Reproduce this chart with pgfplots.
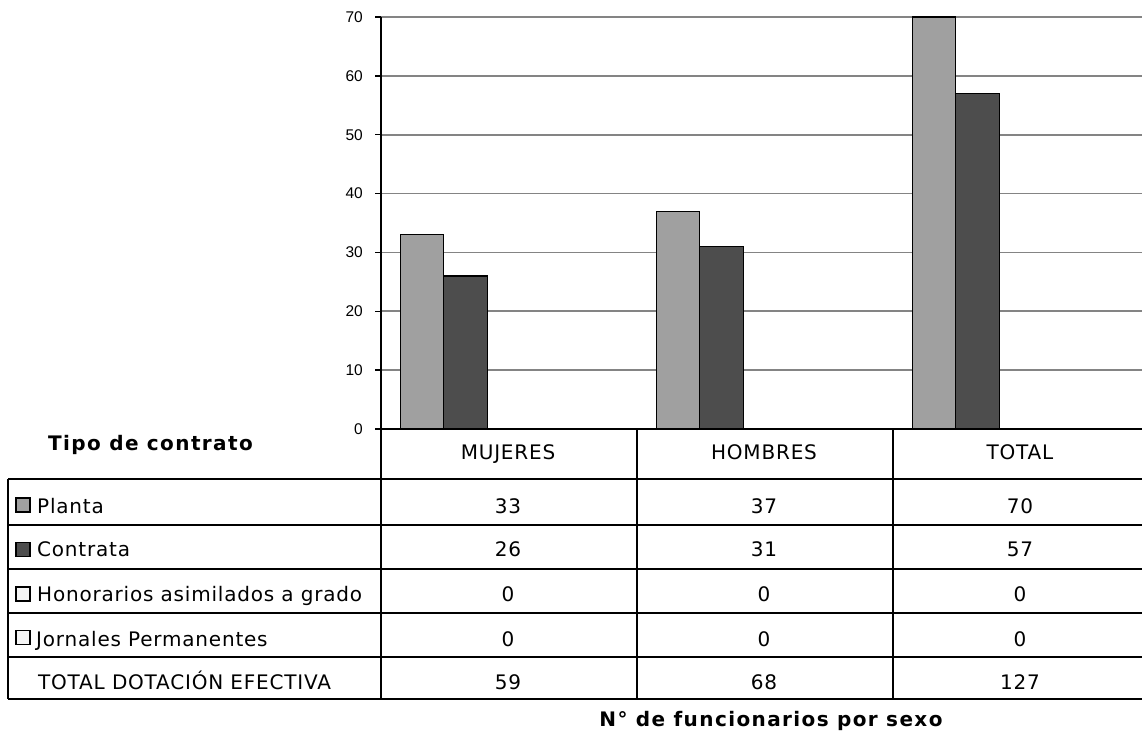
\documentclass[border=0pt]{standalone}
\usepackage{pgfplots}
\pgfplotsset{compat=1.18}
\usepackage{fontspec}
\setmainfont{DejaVu Sans}
\newfontfamily\tickfont{Liberation Sans}
\newfontfamily\tabfont[LetterSpace=4]{DejaVu Sans}
\newfontfamily\headfont[LetterSpace=7]{DejaVu Sans}

\definecolor{planta}{RGB}{160,160,160}
\definecolor{contrata}{RGB}{77,77,77}
\definecolor{gridgray}{RGB}{132,132,132}
\definecolor{emptybox}{RGB}{245,245,245}

\newcommand{\tab}{\tabfont\fontsize{20}{24}\selectfont}
\newcommand{\head}{\headfont\bfseries\fontsize{20}{24}\selectfont}
\newcommand{\tk}{\tickfont\fontsize{15.5}{18}\selectfont}

\begin{document}
\begin{tikzpicture}
\useasboundingbox (0,0) rectangle (1142pt,736pt);
\clip (0,0) rectangle (1142pt,736pt);

\begin{axis}[
    anchor=south west, at={(381pt,307pt)},
    scale only axis, width=768pt, height=412pt,
    xmin=-0.5, xmax=2.5, ymin=0, ymax=70,
    clip=false,
    axis y line*=left, axis x line*=bottom,
    axis line style={-, line width=1.5pt, black},
    xtick=\empty,
    ytick={0,10,...,70},
    tick align=outside, major tick length=6pt,
    tick style={black, line width=1.3pt},
    ymajorgrids, grid style={gridgray, line width=1.8pt},
    /pgf/number format/assume math mode=true,
    yticklabel={\tk\pgfmathprintnumber{\tick}},
    yticklabel style={inner sep=0pt, anchor=east, xshift=-12pt},
]
\addplot[ybar, bar width=43.5pt, bar shift=-87pt, fill=planta, draw=black, line width=1.4pt]
    coordinates {(0,33) (1,37) (2,70)};
\addplot[ybar, bar width=43.5pt, bar shift=-43.5pt, fill=contrata, draw=black, line width=1.4pt]
    coordinates {(0,26) (1,31) (2,57)};
\end{axis}

% data table
\begin{scope}[line width=1.5pt]
\draw (381pt,307pt) -- (1150pt,307pt);
\foreach \y in {257,211,167,123,79,37} \draw (8pt,\y pt) -- (1150pt,\y pt);
\draw (8pt,257pt) -- (8pt,37pt);
\foreach \x in {381,637,893} \draw (\x pt,307pt) -- (\x pt,37pt);
\end{scope}

% legend keys
\begin{scope}[line width=1.3pt]
\draw[fill=planta]   (16pt,224pt) rectangle (30pt,238pt);
\draw[fill=contrata] (16pt,179.5pt) rectangle (30pt,193.5pt);
\draw[fill=emptybox] (16pt,135pt) rectangle (30pt,149pt);
\draw[fill=emptybox] (16pt,91.5pt) rectangle (30pt,105.5pt);
\end{scope}

\begin{scope}[every node/.style={inner sep=0pt, font=\tab}]
\node[anchor=base west] at (37pt,222pt) {Planta};
\node[anchor=base west] at (37pt,179pt) {Contrata};
\node[anchor=base west] at (37pt,134pt) {Honorarios asimilados a grado};
\node[anchor=base west] at (36pt,90pt) {Jornales Permanentes};
\node[anchor=base west] at (38pt,47pt) {TOTAL DOTACIÓN EFECTIVA};

\node[anchor=base] at (508pt,276pt) {MUJERES};
\node[anchor=base] at (764pt,276pt) {HOMBRES};
\node[anchor=base] at (1020pt,276pt) {TOTAL};

\foreach \x/\a/\b/\c/\d/\e in {508/33/26/0/0/59, 764/37/31/0/0/68, 1020/70/57/0/0/127} {
  \node[anchor=base] at (\x pt,222pt) {\a};
  \node[anchor=base] at (\x pt,179pt) {\b};
  \node[anchor=base] at (\x pt,134pt) {\c};
  \node[anchor=base] at (\x pt,90pt) {\d};
  \node[anchor=base] at (\x pt,47pt) {\e};
}
\end{scope}

\node[anchor=base west, inner sep=0pt, font=\head] at (48pt,285pt) {Tipo de contrato};
\node[anchor=base, inner sep=0pt, font=\head] at (771pt,10pt) {N° de funcionarios por sexo};
\end{tikzpicture}
\end{document}
